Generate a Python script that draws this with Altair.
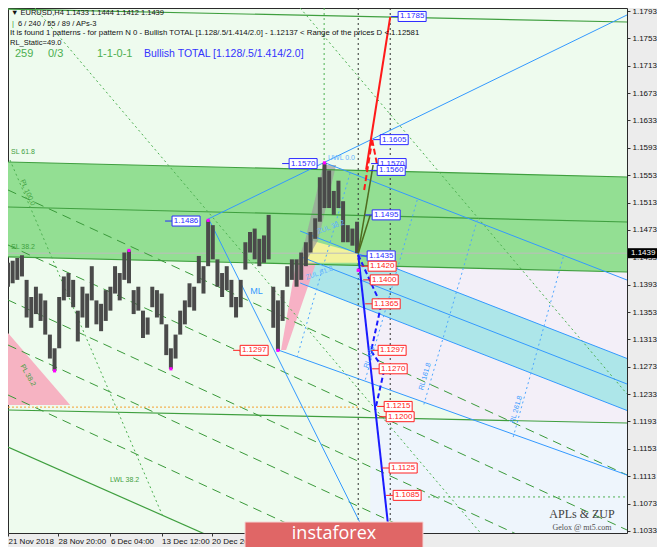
import altair as alt
import pandas as pd

# ---------------- scales ----------------
X_DOMAIN = [0, 532]            # bar index (H4 bars)
Y_DOMAIN = [1.1030, 1.17974]   # price
W, H = 619, 525
PX_X = W / (X_DOMAIN[1] - X_DOMAIN[0])
PX_Y = H / (Y_DOMAIN[1] - Y_DOMAIN[0])

# ---------------- price bars (every 4th H4 bar, high / low) ----------------
bar_index = list(range(0, 301, 4))
bar_high = [1.1425, 1.1428, 1.1432, 1.1436, 1.1400, 1.1375, 1.1390, 1.1380, 1.1370, 1.1320,
            1.1300, 1.1375, 1.1405, 1.1410, 1.1400, 1.1355, 1.1390, 1.1380, 1.1420, 1.1370,
            1.1365, 1.1385, 1.1390, 1.1420, 1.1410, 1.1440, 1.1443, 1.1385, 1.1390, 1.1355,
            1.1345, 1.1390, 1.1385, 1.1380, 1.1335, 1.1300, 1.1320, 1.1355, 1.1370, 1.1395,
            1.1390, 1.1435, 1.1420, 1.1487, 1.1480, 1.1430, 1.1410, 1.1420, 1.1400, 1.1375,
            1.1400, 1.1455, 1.1470, 1.1475, 1.1460, 1.1465, 1.1495, 1.1390, 1.1370, 1.1385,
            1.1420, 1.1430, 1.1430, 1.1440, 1.1455, 1.1470, 1.1490, 1.1550, 1.1571, 1.1560,
            1.1530, 1.1545, 1.1515, 1.1480, 1.1475, 1.1485]
bar_low = [1.1390, 1.1395, 1.1400, 1.1405, 1.1345, 1.1330, 1.1350, 1.1340, 1.1320, 1.1285,
           1.1267, 1.1300, 1.1370, 1.1375, 1.1360, 1.1310, 1.1345, 1.1330, 1.1370, 1.1335,
           1.1325, 1.1340, 1.1355, 1.1380, 1.1370, 1.1400, 1.1395, 1.1350, 1.1355, 1.1315,
           1.1320, 1.1360, 1.1345, 1.1335, 1.1290, 1.1270, 1.1285, 1.1320, 1.1335, 1.1360,
           1.1355, 1.1395, 1.1380, 1.1420, 1.1430, 1.1390, 1.1375, 1.1385, 1.1360, 1.1345,
           1.1360, 1.1415, 1.1440, 1.1430, 1.1420, 1.1425, 1.1430, 1.1330, 1.1297, 1.1340,
           1.1390, 1.1400, 1.1390, 1.1400, 1.1420, 1.1440, 1.1460, 1.1485, 1.1505, 1.1505,
           1.1495, 1.1505, 1.1455, 1.1455, 1.1450, 1.1439]
current_price = 1.1439

# ---------------- axes ----------------
y_ticks = [1.1033, 1.1073, 1.1113, 1.1153, 1.1193, 1.1233, 1.1273, 1.1313, 1.1353, 1.1393,
           1.1433, 1.1473, 1.1513, 1.1553, 1.1593, 1.1633, 1.1673, 1.1713, 1.1753, 1.1793]
x_tick_bars = [0, 43, 88, 132, 175]
x_tick_labels = ["21 Nov 2018", "28 Nov 20:00", "6 Dec 04:00", "13 Dec 12:00",
                 "20 Dec 20:00"]

# ---------------- zones ----------------
sl_band_x = [0, 532]
sl_band_top = [1.15723, 1.15504]
sl_band_bot = [1.14335, 1.14115]
cyan_x = [251.1, 532]
cyan_top = [1.14714, 1.12851]
cyan_bot = [1.13954, 1.12091]
lavender_x = [301, 399.8, 532]
lavender_top = [1.1440, 1.1440, 1.1440]
lavender_bot = [1.12557, 1.11952, 1.11908]
pale_blue_x = [311.3, 532]
pale_blue_top = [1.11987, 1.11908]
pale_blue_bot = [1.1030, 1.1030]
pink_x = [0, 53.4]
pink_top = [1.13224, 1.12171]
pink_bot = [1.12171, 1.12171]
zup_pink_y = [1.12975, 1.1425]
zup_pink_l = [234.7, 247.6]
zup_pink_r = [239.0, 264.8]
zup_grey_y = [1.1425, 1.1458, 1.1568]
zup_grey_l = [248.5, 255.4, 270.9]
zup_grey_r = [255.4, 266.5, 282.0]
zup_yellow_x = [248.5, 259.7, 301]
zup_yellow_top = [1.1425, 1.1458, 1.1439]
zup_yellow_bot = [1.1425, 1.1425, 1.1425]

# ---------------- lines (x, price, x2, price2) ----------------
green_solid = [(0, 1.15723, 532, 1.15504), (0, 1.15065, 532, 1.14846),
               (0, 1.14335, 532, 1.14115), (0, 1.17959, 532, 1.17769),
               (0, 1.12098, 532, 1.11908), (0, 1.11557, 171, 1.10271)]
green_dash = [(0, 1.15314, 532, 1.11148), (0, 1.14510, 532, 1.10344),
              (0, 1.13706, 532, 1.09540), (0, 1.13048, 532, 1.08883),
              (0, 1.12317, 532, 1.08152)]
green_dot = [(251.1, 1.17974, 532, 1.12332), (23.2, 1.17974, 407.6, 1.10271),
             (1.7, 1.15752, 133.3, 1.10534), (271.7, 1.17974, 271.7, 1.1571),
             (361, 1.10827, 532, 1.10827)]
black_dot = [(301, 1.17974, 301, 1.1030), (328.5, 1.17974, 328.5, 1.1030)]
orange_dot = [(0, 1.1214, 301, 1.1214)]
blue_solid = [(172, 1.1489, 532, 1.17872), (272.6, 1.1571, 532, 1.13998),
              (232.2, 1.12975, 532, 1.11148), (173.7, 1.1485, 307.8, 1.10271),
              (251.1, 1.14714, 532, 1.12851), (251.1, 1.14342, 532, 1.12478),
              (251.1, 1.13954, 532, 1.12091)]
blue_dot = [(294, 1.15562, 248.5, 1.12873), (351.7, 1.15168, 307, 1.12537),
            (403.3, 1.14875, 356.8, 1.12142), (477.2, 1.14335, 434.2, 1.11703)]
red_solid = [(307.8, 1.1561, 328.5, 1.17842)]
red_dash_pts = [(306.1, 1.15314), (313, 1.16045), (317.3, 1.15679)]
olive_solid = [(301, 1.1439, 313.8, 1.15679), (301, 1.1439, 311.3, 1.14948)]
zz_blue_solid = [(301, 1.14364, 327.6, 1.10271)]
zz_blue_dash_pts = [(301, 1.14364), (320.7, 1.13633), (312.1, 1.12961),
                    (323.3, 1.12683), (315.6, 1.12098)]

# ---------------- price labels ----------------
box_text = ["1.1785", "1.1605", "1.1570", "1.1570", "1.1560", "1.1495", "1.1486", "1.1435",
            "1.1420", "1.1400", "1.1365", "1.1297", "1.1297", "1.1270", "1.1215", "1.1200",
            "1.1125", "1.1085"]
box_bar = [335.3, 319.9, 241.6, 318.1, 317.3, 313, 141, 308.7,
           309.5, 311.3, 313, 199.5, 318.1, 319, 323.3, 325, 327.6, 331]
box_kind = ["blue"] * 8 + ["red"] * 10
pivot_bar = [40, 104, 140, 172, 232, 272, 301]
pivot_price = [1.1267, 1.1443, 1.1270, 1.1487, 1.1297, 1.1571, 1.1414]

line_lab_text = ["SL 61.8", "SL 38.2", "LWL 38.2", "ML", "UWL 0.0", "RL 100", "RL 161.8",
                 "RL 261.8", "PL 100.0", "PL 38.2", "ZUL 38.2", "ZUL 61.8"]
line_lab_bar = [2.6, 2.6, 87.7, 208.1, 275, 307.8, 355, 433.4, 12, 12, 266, 256]
line_lab_price = [1.15869, 1.14481, 1.11075, 1.13837, 1.15781, 1.12712, 1.12391, 1.11908,
                  1.1546, 1.12756, 1.1470, 1.14028]
line_lab_angle = [0, 0, 0, 0, 0, 286, 286, 286, 66, 60, 340, 340]
line_lab_color = ["#3f9f3f", "#3f9f3f", "#3f9f3f", "#3399ff", "#66b3ff", "#3399ff", "#3399ff",
                  "#3399ff", "#3f9f3f", "#3f9f3f", "#66b3ff", "#66b3ff"]
line_lab_size = [7, 7, 7, 9, 7, 7, 7, 7, 7, 7, 7, 7]

# ---------------- helpers ----------------
xs = alt.Scale(domain=X_DOMAIN, nice=False, zero=False)
ys = alt.Scale(domain=Y_DOMAIN, nice=False, zero=False)

x_label_expr = "[" + ",".join(f"'{t}'" for t in x_tick_labels) + "][indexof([" + \
    ",".join(str(v) for v in x_tick_bars) + "], datum.value)]"
X_AXIS = alt.Axis(values=x_tick_bars, labelExpr=x_label_expr, labelAlign="left",
                  labelFontSize=8, labelFont="Liberation Sans", labelColor="#111111",
                  tickSize=3, tickColor="#333333", domain=False, grid=False, title=None,
                  labelPadding=1, labelOverlap=False, labelFlush=False, labelBound=False,
                  zindex=0)
Y_AXIS = alt.Axis(orient="right", values=y_ticks, format=".4f", labelFontSize=8,
                  labelFont="Liberation Sans", labelColor="#111111", tickSize=3,
                  tickColor="#333333", domain=False, grid=False, title=None, labelPadding=2,
                  labelOverlap=False, labelBound=False, zindex=0)


def xq(f):
    return alt.X(f"{f}:Q", scale=xs, axis=X_AXIS)


def yq(f):
    return alt.Y(f"{f}:Q", scale=ys, axis=Y_AXIS)


def seg_layer(rows, color, width=1.0, dash=None, opacity=1.0):
    df = pd.DataFrame(rows, columns=["x", "y", "x2", "y2"])
    kw = dict(color=color, strokeWidth=width, opacity=opacity, clip=True)
    if dash:
        kw["strokeDash"] = dash
    return alt.Chart(df).mark_rule(**kw).encode(
        x=xq("x"), y=yq("y"), x2=alt.X2("x2"), y2=alt.Y2("y2"))


def poly(points):
    return [(a[0], a[1], b[0], b[1]) for a, b in zip(points[:-1], points[1:])]


def area_layer(xv, top, bot, color, opacity=1.0):
    df = pd.DataFrame({"x": xv, "y": top, "y2": bot})
    return alt.Chart(df).mark_area(color=color, opacity=opacity, clip=True).encode(
        x=xq("x"), y=yq("y"), y2=alt.Y2("y2"))


def harea_layer(yv, left, right, color, opacity=1.0):
    df = pd.DataFrame({"y": yv, "x": left, "x2": right})
    return alt.Chart(df).mark_area(color=color, opacity=opacity, clip=True,
                                   orient="horizontal").encode(
        y=yq("y"), x=xq("x"), x2=alt.X2("x2"))


def ptext(txt, x, y, size=8, color="#111111", font="Liberation Sans", align="left", **kw):
    return alt.Chart(pd.DataFrame({"t": [txt]})).mark_text(
        align=align, baseline="middle", fontSize=size, color=color, font=font, **kw
    ).encode(x=alt.value(x), y=alt.value(y), text="t:N")


layers = []

# zones
layers.append(area_layer(lavender_x, lavender_top, lavender_bot, "#f3eff8"))
layers.append(area_layer(pale_blue_x, pale_blue_top, pale_blue_bot, "#eef5fc"))
layers.append(area_layer(pink_x, pink_top, pink_bot, "#f6b3c2"))
layers.append(area_layer(cyan_x, cyan_top, cyan_bot, "#ade6e9"))
layers.append(area_layer(sl_band_x, sl_band_top, sl_band_bot, "#93df93"))
layers.append(harea_layer(zup_pink_y, zup_pink_l, zup_pink_r, "#f7a8c0", 0.9))
layers.append(area_layer(zup_yellow_x, zup_yellow_top, zup_yellow_bot, "#f2f29c"))
layers.append(harea_layer(zup_grey_y, zup_grey_l, zup_grey_r, "#9c9c9c", 0.7))

# lines
layers.append(seg_layer([(0, current_price, 532, current_price)], "#bdbdbd"))
layers.append(seg_layer(green_solid, "#3f9f3f", 1.2))
layers.append(seg_layer(green_dash, "#3a9a3a", 1.0, [9, 6]))
layers.append(seg_layer(green_dot, "#4caf50", 1.0, [2, 3]))
layers.append(seg_layer(orange_dot, "#f5a030", 1.0, [2, 2]))
layers.append(seg_layer(black_dot, "#333333", 1.0, [2, 3]))
layers.append(seg_layer(blue_solid, "#3399ff", 1.0))
layers.append(seg_layer(blue_dot, "#4da6ff", 1.0, [2, 3]))

# price bars
bars_df = pd.DataFrame({"bar": bar_index, "high": bar_high, "low": bar_low})
layers.append(alt.Chart(bars_df).mark_rule(color="#4a4a4a", strokeWidth=4.0, clip=True).encode(
    x=xq("bar"), y=yq("low"), y2=alt.Y2("high")))

# zigzag projections
layers.append(seg_layer(olive_solid, "#4f6b1f", 1.5))
layers.append(seg_layer(red_solid, "#ff1a1a", 2))
layers.append(seg_layer(poly(red_dash_pts), "#ff1a1a", 2, [6, 3]))
layers.append(seg_layer(zz_blue_solid, "#1a1aff", 2))
layers.append(seg_layer(poly(zz_blue_dash_pts), "#1a1aff", 2, [5, 3]))

# pivots
layers.append(alt.Chart(pd.DataFrame({"x": pivot_bar, "y": pivot_price})).mark_square(
    size=10, color="#ff00ff", opacity=1).encode(x=xq("x"), y=yq("y")))

# price boxes
bdf = pd.DataFrame({"x": box_bar, "t": box_text, "k": box_kind})
bdf["p"] = bdf["t"].astype(float)
bdf["x2"] = bdf["x"] + 28 / PX_X
bdf["xc"] = bdf["x"] + 14 / PX_X
bdf["xl"] = bdf["x"] - 7 / PX_X
bdf["yt"] = bdf["p"] + 5 / PX_Y
bdf["yb"] = bdf["p"] - 5 / PX_Y
for kind, col in [("blue", "#2a2aff"), ("red", "#ff2020")]:
    sub = bdf[bdf["k"] == kind]
    layers.append(alt.Chart(sub).mark_rule(color=col, strokeWidth=1).encode(
        x=xq("xl"), x2=alt.X2("x"), y=yq("p")))
    layers.append(alt.Chart(sub).mark_rect(fill="#ffffff", stroke=col, strokeWidth=1).encode(
        x=xq("x"), x2=alt.X2("x2"), y=yq("yt"), y2=alt.Y2("yb")))
    layers.append(alt.Chart(sub).mark_text(fontSize=8, font="Liberation Sans", color=col,
                                           baseline="middle", align="center").encode(
        x=xq("xc"), y=yq("p"), text="t:N"))

# line labels
ldf = pd.DataFrame({"x": line_lab_bar, "y": line_lab_price, "t": line_lab_text,
                    "a": line_lab_angle, "c": line_lab_color, "s": line_lab_size})
layers.append(alt.Chart(ldf).mark_text(align="left", baseline="middle",
                                       font="Liberation Sans").encode(
    x=xq("x"), y=yq("y"), text="t:N", angle=alt.Angle("a:Q", scale=None),
    color=alt.Color("c:N", scale=None), size=alt.Size("s:Q", scale=None)))

# header texts
layers.append(ptext("\u25bc EURUSD,H4  1.1433 1.1444 1.1412 1.1439", 3, 5, 7.5))
layers.append(ptext("|", 4, 16, 7.5, "#3f9f3f"))
layers.append(ptext("6 / 240 / 55 / 89 / APs-3", 10, 16, 7.5))
layers.append(ptext("It is found 1 patterns  -  for pattern N 0 - Bullish TOTAL "
                    "[1.128/.5/1.414/2.0] - 1.12137 < Range of the prices D < 1.12581",
                    2, 25, 7.8))
layers.append(ptext("RL_Static=49.0", 2, 35, 7.5))
layers.append(ptext("259", 7, 46, 11, "#4caf50"))
layers.append(ptext("0/3", 40, 46, 11, "#4caf50"))
layers.append(ptext("1-1-0-1", 89, 46, 11, "#4caf50"))
layers.append(ptext("Bullish TOTAL [1.128/.5/1.414/2.0]", 136, 46, 10.5, "#3333ff"))
layers.append(ptext("APLs & ZUP", 574, 506, 12, "#404040", "Liberation Serif", "center"))
layers.append(ptext("Gelox @ mt5.com", 574, 520, 8, "#505050", "Liberation Serif", "center"))

one = pd.DataFrame({"a": [0]})

# current price marker on axis
cp = pd.DataFrame({"y": [current_price + 5 / PX_Y], "y2": [current_price - 5 / PX_Y],
                   "p": [current_price], "t": [f"{current_price:.4f}"]})
layers.append(alt.Chart(cp).mark_rect(color="#000000", clip=False).encode(
    x=alt.value(620), x2=alt.value(649), y=yq("y"), y2=alt.Y2("y2")))
layers.append(alt.Chart(cp).mark_text(color="#ffffff", fontSize=8, font="Liberation Sans",
                                      align="left", baseline="middle").encode(
    x=alt.value(623), y=yq("p"), text="t:N"))

# logo
layers.append(alt.Chart(one).mark_rect(color="#e06666", stroke="#f5d5d5", strokeWidth=1,
                                       clip=False).encode(
    x=alt.value(237), x2=alt.value(415), y=alt.value(514), y2=alt.value(540)))
layers.append(ptext("instaforex", 326, 526, 18, "#ffffff", "Open Sans", "center"))

chart = alt.layer(*layers).properties(
    width=W, height=H,
    autosize=alt.AutoSizeParams(type="none"),
    padding={"left": 0, "top": 0, "right": 30, "bottom": 14},
    background="#ececec",
).configure_view(fill="#eefbee", stroke="#2a2a2a", strokeWidth=1)

chart.save("out.html", embed_options={"renderer": "svg", "actions": False})
